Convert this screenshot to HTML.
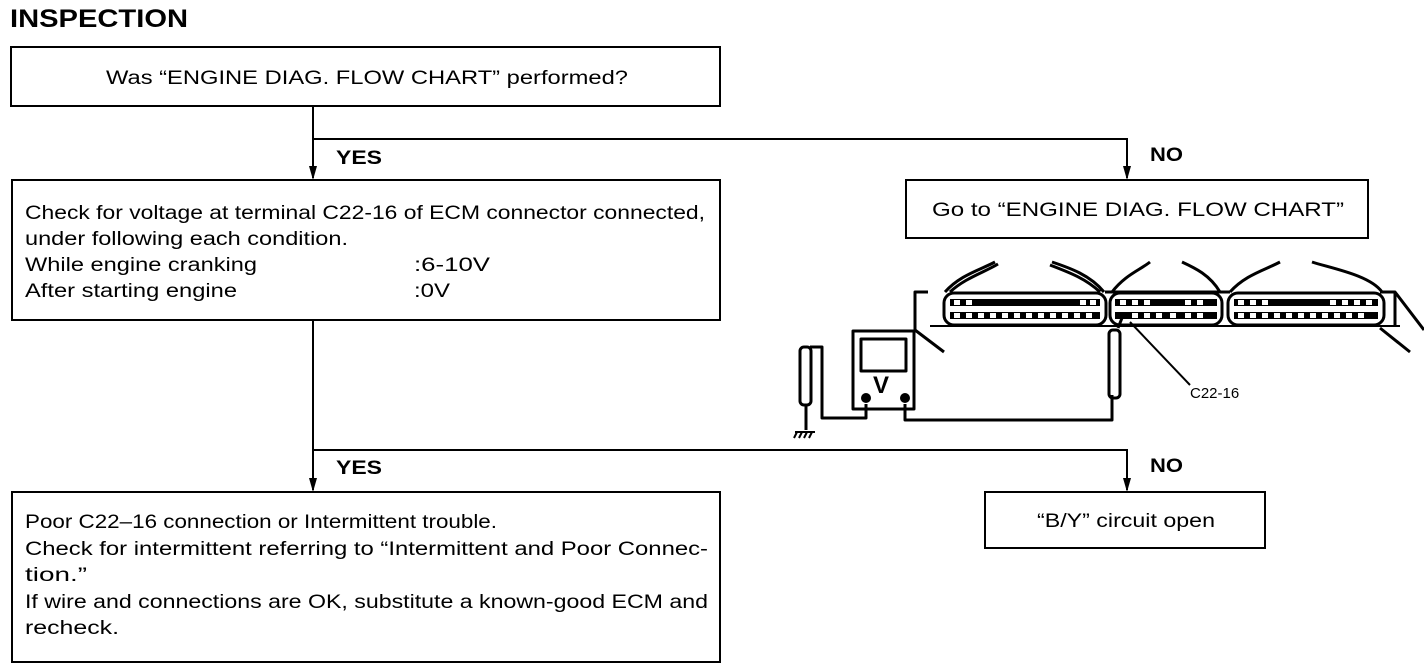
<!DOCTYPE html>
<html><head><meta charset="utf-8"><style>
html,body{margin:0;padding:0;background:#fff;}
svg{display:block;}
text{font-family:"Liberation Sans",Arial,sans-serif;fill:#000;}
</style></head><body>
<svg width="1424" height="670" viewBox="0 0 1424 670" xmlns="http://www.w3.org/2000/svg">
<text x="10" y="27" font-size="25" font-weight="bold" textLength="178" lengthAdjust="spacingAndGlyphs">INSPECTION</text>
<g fill="none" stroke="#000" stroke-width="2">
<rect x="11" y="47" width="709" height="59"/>
<rect x="12" y="180" width="708" height="140"/>
<rect x="906" y="180" width="462" height="58"/>
<rect x="12" y="492" width="708" height="170"/>
<rect x="985" y="492" width="280" height="56"/>
<path d="M313 106V178M313 139H1127V178M313 320V490M313 450H1127V490"/>
</g>
<g fill="#000">
<path d="M309 166L313 180L317 166Z"/><path d="M1123 166L1127 180L1131 166Z"/>
<path d="M309 478L313 492L317 478Z"/><path d="M1123 478L1127 492L1131 478Z"/>
</g>
<g font-size="19">
<text x="106" y="84" textLength="522" lengthAdjust="spacingAndGlyphs">Was “ENGINE DIAG. FLOW CHART” performed?</text>
<text x="336" y="164" font-weight="bold" textLength="46" lengthAdjust="spacingAndGlyphs">YES</text>
<text x="1150" y="161" font-weight="bold" textLength="33" lengthAdjust="spacingAndGlyphs">NO</text>
<text x="336" y="474" font-weight="bold" textLength="46" lengthAdjust="spacingAndGlyphs">YES</text>
<text x="1150" y="472" font-weight="bold" textLength="33" lengthAdjust="spacingAndGlyphs">NO</text>
<text x="25" y="219" textLength="680" lengthAdjust="spacingAndGlyphs">Check for voltage at terminal C22-16 of ECM connector connected,</text>
<text x="25" y="245" textLength="323" lengthAdjust="spacingAndGlyphs">under following each condition.</text>
<text x="25" y="271" textLength="232" lengthAdjust="spacingAndGlyphs">While engine cranking</text>
<text x="414" y="271" textLength="76" lengthAdjust="spacingAndGlyphs">:6-10V</text>
<text x="25" y="297" textLength="212" lengthAdjust="spacingAndGlyphs">After starting engine</text>
<text x="414" y="297" textLength="36" lengthAdjust="spacingAndGlyphs">:0V</text>
<text x="932" y="216" textLength="412" lengthAdjust="spacingAndGlyphs">Go to “ENGINE DIAG. FLOW CHART”</text>
<text x="1037" y="527" textLength="178" lengthAdjust="spacingAndGlyphs">“B/Y” circuit open</text>
<text x="25" y="528" textLength="472" lengthAdjust="spacingAndGlyphs">Poor C22–16 connection or Intermittent trouble.</text>
<text x="25" y="555" textLength="683" lengthAdjust="spacingAndGlyphs">Check for intermittent referring to “Intermittent and Poor Connec-</text>
<text x="25" y="581" textLength="62" lengthAdjust="spacingAndGlyphs">tion.”</text>
<text x="25" y="608" textLength="683" lengthAdjust="spacingAndGlyphs">If wire and connections are OK, substitute a known-good ECM and</text>
<text x="25" y="634" textLength="94" lengthAdjust="spacingAndGlyphs">recheck.</text>
<text x="1190" y="398" font-size="15">C22-16</text>
</g>
<g fill="none" stroke="#000" stroke-width="3" stroke-linejoin="round">
<path d="M928 292H915V330L944 352"/>
<path d="M1105 292H1230M1380 292H1395L1424 330M1380 328L1410 352M1395 292V326"/>
<path d="M930 326H1400" stroke-width="2"/>
<rect x="944" y="293" width="162" height="32" rx="10"/>
<rect x="1110" y="293" width="112" height="32" rx="10"/>
<rect x="1228" y="293" width="156" height="32" rx="10"/>
<path d="M945 292C960 275 980 270 995 262M950 292C965 278 985 272 998 264M1104 292C1090 275 1070 268 1052 262M1100 292C1085 278 1068 272 1050 265"/>
<path d="M1112 292C1125 275 1140 270 1150 262M1220 292C1210 275 1195 268 1182 262"/>
<path d="M1230 292C1245 275 1265 270 1280 262M1382 292C1370 275 1330 268 1312 262"/>
<rect x="853" y="331" width="61" height="78"/>
<rect x="861" y="339" width="45" height="32"/>
<path d="M866 404V418H822V347H810M905 404V420H1112V395"/>
<rect x="800" y="347" width="11" height="58" rx="4"/>
<path d="M806 405V430"/>
<rect x="1109" y="330" width="11" height="68" rx="4"/>
<path d="M1118 328L1122 318"/>
</g>
<g stroke="#000" stroke-width="2" fill="none">
<path d="M1130 322L1190 385"/>
<path d="M795 432H815M797 432L794 438M802 432L799 438M807 432L804 438M812 432L809 438"/>
</g>
<g fill="#000">
<circle cx="866" cy="398" r="5"/><circle cx="905" cy="398" r="5"/>
<text x="873" y="393" font-size="24" font-weight="bold">V</text>
</g>
<g fill="#000">
<rect x="950" y="299" width="150" height="7"/><rect x="950" y="312" width="150" height="7"/>
<rect x="1115" y="299" width="102" height="7"/><rect x="1115" y="312" width="102" height="7"/>
<rect x="1234" y="299" width="144" height="7"/><rect x="1234" y="312" width="144" height="7"/>
</g>
<g fill="#fff">
<rect x="954" y="300" width="6" height="5"/><rect x="966" y="300" width="6" height="5"/><rect x="1080" y="300" width="6" height="5"/><rect x="1090" y="300" width="6" height="5"/>
<rect x="954" y="313" width="6" height="5"/><rect x="966" y="313" width="6" height="5"/><rect x="978" y="313" width="6" height="5"/><rect x="990" y="313" width="6" height="5"/><rect x="1002" y="313" width="6" height="5"/><rect x="1014" y="313" width="6" height="5"/><rect x="1026" y="313" width="6" height="5"/><rect x="1038" y="313" width="6" height="5"/><rect x="1050" y="313" width="6" height="5"/><rect x="1062" y="313" width="6" height="5"/><rect x="1074" y="313" width="6" height="5"/><rect x="1086" y="313" width="6" height="5"/>
<rect x="1120" y="300" width="6" height="5"/><rect x="1132" y="300" width="6" height="5"/><rect x="1144" y="300" width="6" height="5"/><rect x="1185" y="300" width="6" height="5"/><rect x="1197" y="300" width="6" height="5"/>
<rect x="1132" y="313" width="6" height="5"/><rect x="1144" y="313" width="6" height="5"/><rect x="1156" y="313" width="6" height="5"/><rect x="1170" y="313" width="6" height="5"/><rect x="1185" y="313" width="6" height="5"/><rect x="1197" y="313" width="6" height="5"/>
<rect x="1238" y="300" width="6" height="5"/><rect x="1250" y="300" width="6" height="5"/><rect x="1262" y="300" width="6" height="5"/><rect x="1330" y="300" width="6" height="5"/><rect x="1342" y="300" width="6" height="5"/><rect x="1354" y="300" width="6" height="5"/><rect x="1366" y="300" width="6" height="5"/>
<rect x="1238" y="313" width="6" height="5"/><rect x="1250" y="313" width="6" height="5"/><rect x="1262" y="313" width="6" height="5"/><rect x="1274" y="313" width="6" height="5"/><rect x="1286" y="313" width="6" height="5"/><rect x="1298" y="313" width="6" height="5"/><rect x="1310" y="313" width="6" height="5"/><rect x="1322" y="313" width="6" height="5"/><rect x="1334" y="313" width="6" height="5"/><rect x="1346" y="313" width="6" height="5"/><rect x="1358" y="313" width="6" height="5"/>
</g>
</svg>
</body></html>
